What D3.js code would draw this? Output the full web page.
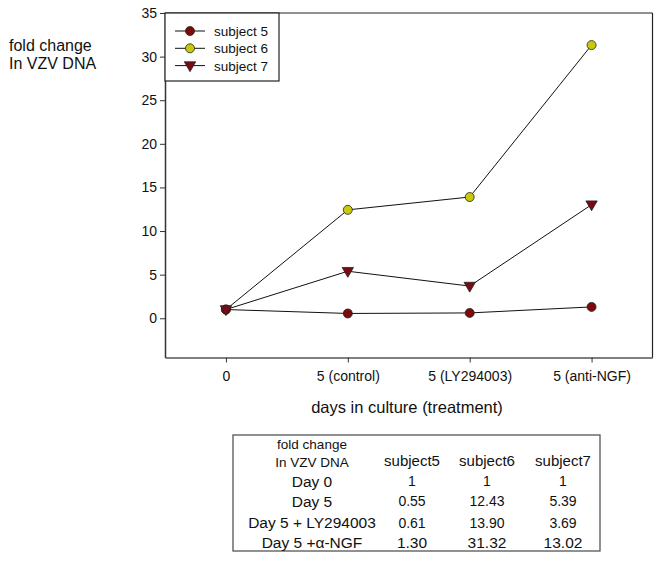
<!DOCTYPE html>
<html><head><meta charset="utf-8">
<script src="https://cdn.jsdelivr.net/npm/d3@7"></script>
<style>body{margin:0;background:#fff}svg{display:block;font-family:"Liberation Sans",Arial,sans-serif}</style>
</head><body><div id="chart"></div>
<script>
const categories = ["0", "5 (control)", "5 (LY294003)", "5 (anti-NGF)"];
const subject5 = [1, 0.55, 0.61, 1.30];
const subject6 = [1, 12.43, 13.90, 31.32];
const subject7 = [1, 5.39, 3.69, 13.02];
const seriesNames = ["subject 5", "subject 6", "subject 7"];
const yTicks = [0, 5, 10, 15, 20, 25, 30, 35];
const tableHeader = ["subject5", "subject6", "subject7"];
const tableRows = ["Day 0", "Day 5", "Day 5 + LY294003", "Day 5 +\u03b1-NGF"];
const tableText = [["1","1","1"],["0.55","12.43","5.39"],["0.61","13.90","3.69"],["1.30","31.32","13.02"]];

const W = 668, H = 561;
const svg = d3.select("#chart").append("svg").attr("width", W).attr("height", H);
const L = 165, R = 652.5, T = 13, B = 357.5;
const x = d3.scalePoint().domain(categories).range([L, R]).padding(0.5);
const y = d3.scaleLinear().domain([-4.5, 35]).range([B, T]);

const series = [
  {name: seriesNames[0], values: subject5, fill: "#7d0a0a", shape: "circle"},
  {name: seriesNames[1], values: subject6, fill: "#c9c90a", shape: "circle"},
  {name: seriesNames[2], values: subject7, fill: "#7a0a14", shape: "tri"}
];

// frame
svg.append("line").attr("x1", L).attr("x2", R).attr("y1", T).attr("y2", T).attr("stroke", "#222").attr("stroke-width", 1.2);
svg.append("line").attr("x1", R).attr("x2", R).attr("y1", T).attr("y2", B).attr("stroke", "#222").attr("stroke-width", 1.2);

const yAxis = svg.append("g").attr("transform", `translate(${L},0)`)
  .call(d3.axisLeft(y).tickValues(yTicks).tickSize(5).tickSizeOuter(0).tickPadding(3));
yAxis.select(".domain").attr("stroke", "#333").attr("stroke-width", 1.5);
yAxis.selectAll(".tick line").attr("stroke", "#333");
yAxis.selectAll("text").attr("font-size", 14).attr("fill", "#111").attr("font-family", "Liberation Sans, Arial, sans-serif");

const xAxis = svg.append("g").attr("transform", `translate(0,${B})`)
  .call(d3.axisBottom(x).tickSize(5).tickSizeOuter(0).tickPadding(9));
xAxis.select(".domain").attr("stroke", "#555").attr("stroke-width", 1.5);
xAxis.selectAll(".tick line").attr("stroke", "#333");
xAxis.selectAll("text").attr("font-size", 14).attr("fill", "#111").attr("font-family", "Liberation Sans, Arial, sans-serif");

const line = d3.line().x((d, i) => x(categories[i])).y(d => y(d));
const tri = d3.symbol().type(d3.symbolTriangle).size(56);

function drawMarker(g, s, cx, cy) {
  if (s.shape === "circle") {
    g.append("circle").attr("cx", cx).attr("cy", cy).attr("r", 4.5)
      .attr("fill", s.fill).attr("stroke", "#222").attr("stroke-width", 0.8);
  } else {
    g.append("path").attr("d", tri()).attr("transform", `translate(${cx},${cy - 0.5}) rotate(180)`)
      .attr("fill", s.fill).attr("stroke", "#222").attr("stroke-width", 0.8);
  }
}

series.forEach(s => {
  svg.append("path").datum(s.values).attr("d", line).attr("fill", "none")
    .attr("stroke", "#111").attr("stroke-width", 1);
});
[1, 0, 2].forEach(k => {
  const s = series[k];
  const g = svg.append("g");
  s.values.forEach((v, i) => drawMarker(g, s, x(categories[i]), y(v)));
});

// legend
svg.append("rect").attr("x", L).attr("y", T).attr("width", 114).attr("height", 68)
  .attr("fill", "#fff").attr("stroke", "#222").attr("stroke-width", 1.2);
series.forEach((s, i) => {
  const ly = 31 + i * 17.3;
  const g = svg.append("g");
  g.append("line").attr("x1", 175).attr("x2", 205).attr("y1", ly).attr("y2", ly).attr("stroke", "#111").attr("stroke-width", 1);
  drawMarker(g, s, 190, ly);
  g.append("text").attr("x", 214).attr("y", ly + 5).attr("font-size", 13.5).attr("fill", "#111").text(s.name);
});

// axis titles
const yt = svg.append("text").attr("font-size", 16).attr("fill", "#111");
yt.append("tspan").attr("x", 9).attr("y", 51).text("fold change");
yt.append("tspan").attr("x", 9).attr("y", 69).text("In VZV DNA");
svg.append("text").attr("x", 407).attr("y", 413).attr("text-anchor", "middle")
  .attr("font-size", 16.5).attr("fill", "#111").text("days in culture (treatment)");

// table
svg.append("rect").attr("x", 233).attr("y", 435).attr("width", 367).attr("height", 116)
  .attr("fill", "none").attr("stroke", "#555").attr("stroke-width", 1.3);
const colX = [312, 412, 487, 563];
const hdr = svg.append("text").attr("text-anchor", "middle").attr("font-size", 13.5).attr("fill", "#111");
hdr.append("tspan").attr("x", colX[0]).attr("y", 449).text("fold change");
hdr.append("tspan").attr("x", colX[0]).attr("y", 467).text("In VZV DNA");
tableHeader.forEach((h, j) => {
  svg.append("text").attr("x", colX[j + 1]).attr("y", 466).attr("text-anchor", "middle")
    .attr("font-size", 15).attr("fill", "#111").text(h);
});
const rowY = [486.5, 506.5, 528, 548];
tableRows.forEach((r, i) => {
  svg.append("text").attr("x", colX[0]).attr("y", rowY[i]).attr("text-anchor", "middle")
    .attr("font-size", 15.5).attr("fill", "#111").text(r);
  tableText[i].forEach((t, j) => {
    svg.append("text").attr("x", colX[j + 1]).attr("y", rowY[i] - (i < 3 ? 0.5 : 0)).attr("text-anchor", "middle")
      .attr("font-size", i < 3 ? 14 : 15.5).attr("fill", "#111").text(t);
  });
});
</script></body></html>
